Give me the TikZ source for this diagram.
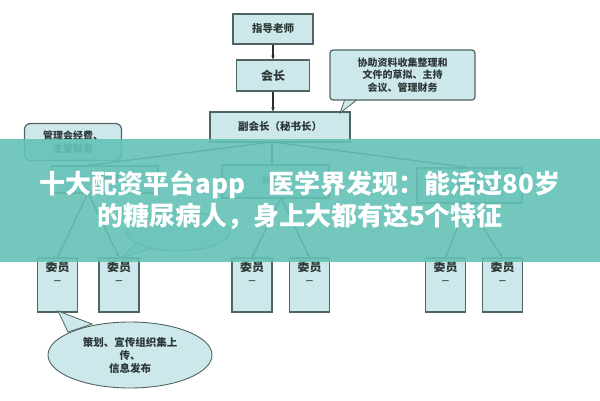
\documentclass[tikz,border=0pt]{standalone}
\usepackage{fontspec}
\newfontfamily\cjk{Noto Sans CJK SC}
\usetikzlibrary{arrows.meta,shapes.geometric}
\definecolor{boxfill}{RGB}{205,232,234}
\definecolor{boxline}{RGB}{80,100,100}
\definecolor{txt}{RGB}{45,55,55}
\definecolor{banner}{RGB}{100,194,182}
\begin{document}
\begin{tikzpicture}[x=1pt,y=-1pt,
  box/.style={draw=boxline,fill=boxfill,line width=1.2pt,inner sep=1pt,align=center,
    font=\cjk\bfseries\fontsize{10.5}{11}\selectfont,text=txt},
  callbox/.style={box,rounded corners=3pt,font=\cjk\bfseries\fontsize{10}{12.5}\selectfont},
  memb/.style={box,minimum width=40pt,minimum height=54pt,anchor=center,font=\cjk\bfseries\fontsize{12}{13}\selectfont},
  conn/.style={draw=txt!90!black,line width=1.2pt,-{Stealth[length=4pt,width=3.5pt]}},
  tail/.style={draw=boxline,fill=boxfill,line width=0.8pt},
  bantext/.style={text=white,font=\cjk\bfseries\fontsize{26}{30}\selectfont}]
\useasboundingbox (0,0) rectangle (600,400);
\fill[white] (0,0) rectangle (600,400);
% top chain
\node[box,minimum width=80pt,minimum height=30pt] (teacher) at (273,29) {指导老师};
\node[box,minimum width=73pt,minimum height=31pt,font=\cjk\bfseries\fontsize{12}{13}\selectfont] (pres) at (273,75.5) {会长};
\node[box,minimum width=140pt,minimum height=30pt] (vp) at (280,127) {副会长（秘书长）};
% callouts
\fill[tail] (345,99) -- (358,99) -- (340,113) -- cycle;
\node[callbox,minimum width=145pt,minimum height=50pt] (callR) at (402.5,75) {协助资料收集整理和\\文件的草拟、主持\\会议、管理财务};
\node[callbox,rounded corners=6pt,minimum width=97pt,minimum height=37pt] (callL) at (73,142) {管理会经费、\\主管财务};
% departments
\node[box,minimum width=106pt,minimum height=27pt,font=\cjk\bfseries\fontsize{9}{10}\selectfont] (dept1) at (105,179.5) {财务部};
\node[box,minimum width=107pt,minimum height=33pt,font=\cjk\bfseries\fontsize{9}{10}\selectfont] (dept2) at (275.5,181.5) {外联部};
\node[box,minimum width=105pt,minimum height=35pt,font=\cjk\bfseries\fontsize{9}{10}\selectfont] (dept3) at (469.5,185.5) {宣传部};
\coordinate (hub) at (272,142);
\coordinate (d1b) at (88,193);
\coordinate (d2b) at (281,198);
\coordinate (d3b) at (467,203);
% members
\foreach \i/\x in {1/57.5,2/119,3/252,4/309.5,5/445.5,6/502.5}{
  \node[memb] (m\i) at (\x,285) {委员\\[-1pt]{\fontsize{8}{8}\selectfont —}\\[12pt]};
}
% ellipse callouts
\fill[tail] (140,240) -- (157,246) -- (121,258) -- cycle;
\node[draw=boxline,fill=boxfill,line width=0.8pt,ellipse,minimum width=104pt,minimum height=40pt] (ellM) at (178,231) {};
\fill[tail] (68,332) -- (92,324) -- (58,311) -- cycle;
\node[draw=boxline,fill=boxfill,line width=0.9pt,ellipse,minimum width=164pt,minimum height=66pt,align=center,
  font=\cjk\bfseries\fontsize{10.5}{13}\selectfont,text=txt] (ellB) at (130,355) {策划、宣传组织集上\\传、\\信息发布};
% connectors
\draw[conn] (teacher) -- (pres);
\draw[conn] (pres.south) -- (pres.south |- vp.north);
\draw[conn] (hub) -- (dept1.north -| d1b);
\draw[conn] (hub) -- (hub |- dept2.north);
\draw[conn] (hub) -- (dept3.north -| d3b);
\draw[conn] (d1b) -- (m1.north);
\draw[conn] (d1b) -- (m2.north);
\draw[conn] (d2b) -- (m3.north);
\draw[conn] (d2b) -- (m4.north);
\draw[conn] (d3b) -- (m5.north);
\draw[conn] (d3b) -- (m6.north);
% banner
\fill[banner,opacity=0.9] (0,139) rectangle (600,262);
\node[bantext] (t1) at (300,185) {十大配资平台app\hspace{0.9em}医学界发现：能活过80岁};
\node[bantext] (t2) at (300,216) {的糖尿病人，身上大都有这5个特征};
\end{tikzpicture}
\end{document}
